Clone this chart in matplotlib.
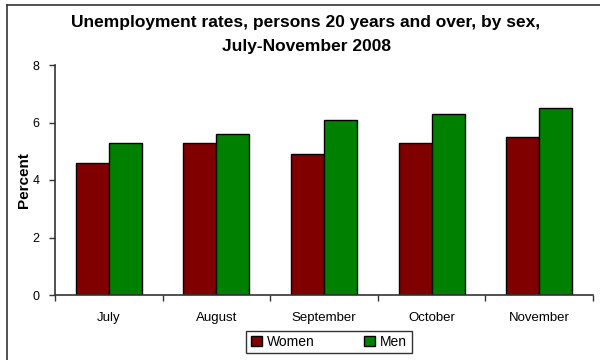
import matplotlib
matplotlib.use("Agg")
import matplotlib.pyplot as plt
import numpy as np
from matplotlib.lines import Line2D

months = ["July", "August", "September", "October", "November"]
women = [4.6, 5.3, 4.9, 5.3, 5.5]
men = [5.3, 5.6, 6.1, 6.3, 6.5]
yticks = [0, 2, 4, 6, 8]

plt.rcParams["font.family"] = ["Liberation Sans", "DejaVu Sans"]

fig = plt.figure(figsize=(6, 3.6), dpi=100)
ax = fig.add_axes([55 / 600, 65 / 360, 538 / 600, 230 / 360])

x = np.arange(len(months))
w = 0.307
ax.bar(x - w / 2, women, width=w, color="#800000", edgecolor="black",
       linewidth=1, label="Women")
ax.bar(x + w / 2, men, width=w, color="#008000", edgecolor="black",
       linewidth=1, label="Men")

ax.set_xlim(-0.5, len(months) - 0.5)
ax.set_ylim(0, 8)
ax.set_yticks(yticks)
ax.set_yticklabels([str(t) for t in yticks], fontsize=9)
ax.tick_params(axis="y", direction="out", length=4, width=1, color="#333333", pad=7)

# category boundaries carry the tick marks, labels sit at the centres
ax.set_xticks(np.arange(-0.5, len(months)), minor=False)
ax.set_xticklabels([])
ax.set_xticks(x, minor=True)
ax.set_xticklabels(months, minor=True, fontsize=9.5)
ax.tick_params(axis="x", which="major", direction="out", length=4, width=1, color="#333333")
ax.tick_params(axis="x", which="minor", length=0, pad=12)

for side in ("top", "right"):
    ax.spines[side].set_visible(False)
for side in ("left", "bottom"):
    ax.spines[side].set_color("#333333")
    ax.spines[side].set_linewidth(1.2)

ax.set_ylabel("Percent", fontsize=11, fontweight="bold", va="center")
ax.yaxis.set_label_coords(-31 / 538, 0.5)

fig.text(306 / 600, 1 - 22 / 360, "Unemployment rates, persons 20 years and over, by sex,",
         ha="center", va="center", fontsize=12.5, fontweight="bold")
fig.text(306 / 600, 1 - 46 / 360, "July-November 2008",
         ha="center", va="center", fontsize=12.5, fontweight="bold")

leg = fig.legend(loc="center", bbox_to_anchor=(329 / 600, 1 - 342 / 360), ncol=2,
                 fontsize=10, frameon=True, fancybox=False, handlelength=0.8,
                 handleheight=0.8, columnspacing=3.5, handletextpad=0.4,
                 borderpad=0.3, borderaxespad=0)
leg.get_frame().set_edgecolor("black")
leg.get_frame().set_linewidth(1)

# outer frame (left and top edges)
fig.add_artist(Line2D([7 / 600, 7 / 600], [0, 1 - 5 / 360], transform=fig.transFigure,
                      color="#333333", linewidth=1.2))
fig.add_artist(Line2D([7 / 600, 1], [1 - 5 / 360, 1 - 5 / 360], transform=fig.transFigure,
                      color="#333333", linewidth=1.2))

fig.savefig("out.png", dpi=100)
